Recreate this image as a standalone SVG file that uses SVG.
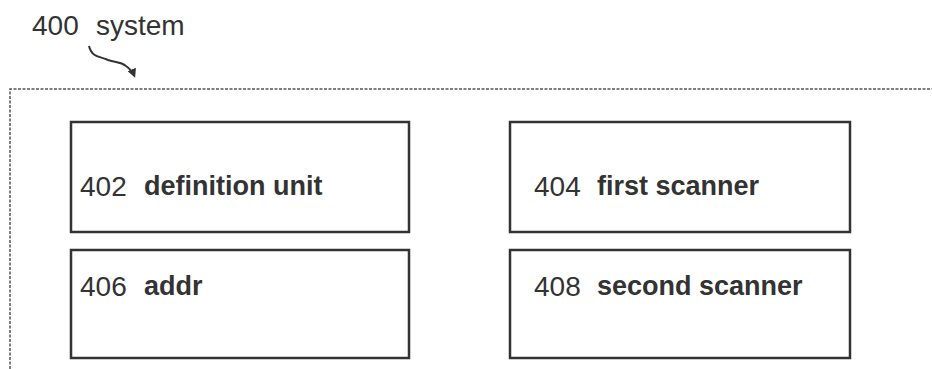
<svg xmlns="http://www.w3.org/2000/svg" width="932" height="369" viewBox="0 0 932 369">
<style>
.box{fill:#fff;stroke:#333;stroke-width:2.5}
.num{font-family:"Liberation Sans",Arial,sans-serif;font-size:28px;fill:#333}
.lbl{font-family:"Liberation Sans",Arial,sans-serif;font-size:27px;font-weight:bold;fill:#333}
.frame{fill:none;stroke:#555;stroke-width:1.5;stroke-dasharray:3 1.5}
</style>
<defs>
<marker id="ah" markerWidth="9" markerHeight="9" refX="6" refY="4.5" orient="auto" markerUnits="userSpaceOnUse">
<path d="M0,0 L9,4.5 L0,9 Z" fill="#333"/>
</marker>
</defs>
<g id="title">
<text class="num" x="32" y="35">400</text>
<text class="num" x="96" y="35">system</text>
</g>
<g id="frame">
<path class="frame" d="M10,369 L10,89 L932,89"/>
</g>
<g id="connectors">
<path d="M89,46 C92,58 100,56 108,60 C116,63 120,61 126,66 C130,69 132,70 134,75" fill="none" stroke="#333" stroke-width="2" marker-end="url(#ah)"/>
</g>
<g id="n402">
<rect class="box" x="71" y="122" width="338" height="110"/>
<text class="num" x="80" y="196">402</text>
<text class="lbl" x="144" y="195">definition unit</text>
</g>
<g id="n404">
<rect class="box" x="510" y="122" width="340" height="110"/>
<text class="num" x="534" y="196">404</text>
<text class="lbl" x="597" y="195">first scanner</text>
</g>
<g id="n406">
<rect class="box" x="71" y="250" width="338" height="108"/>
<text class="num" x="80" y="296">406</text>
<text class="lbl" x="144" y="295">addr</text>
</g>
<g id="n408">
<rect class="box" x="510" y="250" width="340" height="108"/>
<text class="num" x="534" y="296">408</text>
<text class="lbl" x="597" y="295">second scanner</text>
</g>
</svg>
